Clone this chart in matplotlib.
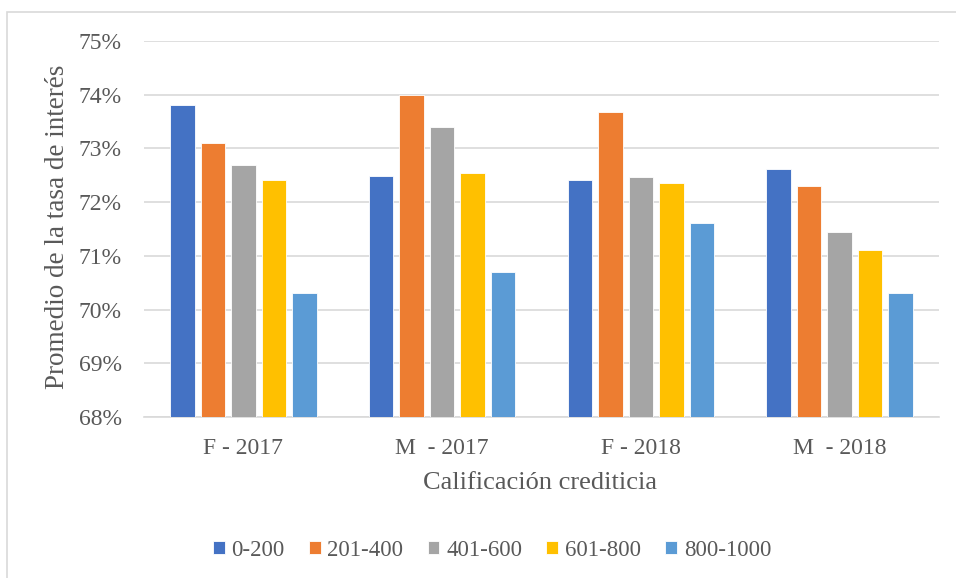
import matplotlib
matplotlib.use('Agg')
import matplotlib.pyplot as plt
import numpy as np
from matplotlib.patches import Rectangle

# datos
grupos = ['F - 2017', 'M  - 2017', 'F - 2018', 'M  - 2018']
rangos = ['0-200', '201-400', '401-600', '601-800', '800-1000']
tasa_0_200 = [73.80, 72.48, 72.42, 72.61]
tasa_201_400 = [73.10, 74.00, 73.67, 72.30]
tasa_401_600 = [72.70, 73.40, 72.46, 71.45]
tasa_601_800 = [72.41, 72.55, 72.36, 71.11]
tasa_800_1000 = [70.30, 70.70, 71.61, 70.30]
series = [tasa_0_200, tasa_201_400, tasa_401_600, tasa_601_800, tasa_800_1000]
colores = ['#4472C4', '#ED7D31', '#A5A5A5', '#FFC000', '#5B9BD5']

plt.rcParams['font.family'] = ['Liberation Serif', 'DejaVu Serif']
gris = '#595959'

fig = plt.figure(figsize=(9.56, 5.78), dpi=100)
ax = fig.add_axes([144/956, 1-417/578, (939-144)/956, (417-41)/578])

# marco del grafico
fig.patches.append(Rectangle((7/956, -0.05), 1.0, 1-12/578+0.05, transform=fig.transFigure,
                             fill=False, edgecolor='#D9D9D9', linewidth=1.2))

x = np.arange(len(grupos))
paso = 0.1535
ancho = 0.124
for i in range(len(series)):
    pos = x + (i - 2) * paso
    ax.bar(pos, series[i], ancho, bottom=0, color=colores[i], edgecolor='white',
           linewidth=0.6, label=rangos[i], zorder=3)

ax.set_ylim(68, 75)
ax.set_xlim(-0.5, 3.5)
ax.set_yticks(range(68, 76))
ax.set_yticklabels([str(v) + '%' for v in range(68, 76)])
ax.set_xticks(x)
ax.set_xticklabels(grupos)
ax.yaxis.grid(True, color='#D9D9D9', linewidth=1.2, zorder=0)
ax.set_axisbelow(True)
for s in ['top', 'right', 'left']:
    ax.spines[s].set_visible(False)
ax.spines['bottom'].set_color('#D9D9D9')
ax.spines['bottom'].set_linewidth(1.2)
ax.tick_params(axis='both', length=0, colors=gris, labelsize=17)
ax.tick_params(axis='y', pad=16)
ax.tick_params(axis='x', pad=15)

fig.text(540/956, 1-483/578, 'Calificación crediticia', ha='center', va='center',
         fontsize=19, color=gris)
fig.text(58/956, 1-227/578, 'Promedio de la tasa de interés', ha='center', va='center',
         rotation=90, fontsize=19.5, color=gris)

leg = fig.legend(loc='center', bbox_to_anchor=(492/956, 1-550/578), ncol=5, frameon=False,
                 fontsize=16.5, handlelength=0.52, handleheight=0.52, handletextpad=0.3,
                 columnspacing=1.05, labelcolor=gris)

fig.savefig('out.png', dpi=100)
